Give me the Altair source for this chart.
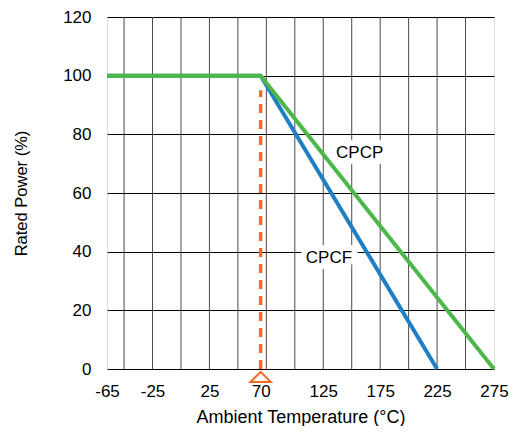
import altair as alt
import pandas as pd

# ---- data ----
temp_ticks = [-65, -25, 25, 70, 125, 175, 225, 275]
grid_temp = [-50, -25, 0, 25, 50, 75, 100, 125, 150, 175, 200, 225, 250]
power_ticks = [0, 20, 40, 60, 80, 100, 120]

cpcf_temp = [-65, 70, 225]
cpcf_power = [100, 100, 0]
cpcp_temp = [-65, 70, 275]
cpcp_power = [100, 100, 0]

marker_temp = [70, 70]
marker_power = [0, 95]

label_names = ["CPCP", "CPCF"]
label_temp = [157, 130]
label_power = [73.5, 38]

FONT = "Liberation Sans"
GREEN = "#4cb848"
BLUE = "#1f7fc4"
ORANGE = "#f26b21"

x_scale = alt.Scale(domain=[-65, 275], nice=False, zero=False)
y_scale = alt.Scale(domain=[0, 120], nice=False)

x_axis = alt.Axis(values=temp_ticks, grid=False, ticks=False, domain=False,
                  labelExpr="'' + datum.value",
                  labelFontSize=17, labelFont=FONT, labelColor="black",
                  labelPadding=14, labelFlush=False, labelOverlap=False,
                  title="Ambient Temperature (°C)", titleFont=FONT,
                  titleFontSize=18, titleFontWeight="normal", titleColor="black",
                  titlePadding=9)
y_axis = alt.Axis(values=power_ticks, grid=True, gridColor="black", gridWidth=1,
                  gridOpacity=1, ticks=False, domain=False,
                  labelFontSize=17, labelFont=FONT, labelColor="black",
                  labelPadding=16, labelFlush=False,
                  title="Rated Power (%)", titleFont=FONT, titleFontSize=16.5,
                  titleFontWeight="normal", titleColor="black", titlePadding=33)

X = alt.X("temp:Q", scale=x_scale, axis=x_axis)
Y = alt.Y("power:Q", scale=y_scale, axis=y_axis)

grid_df = pd.DataFrame({"temp": grid_temp})
cpcf_df = pd.DataFrame({"temp": cpcf_temp, "power": cpcf_power})
cpcp_df = pd.DataFrame({"temp": cpcp_temp, "power": cpcp_power})
marker_df = pd.DataFrame({"temp": marker_temp, "power": marker_power})
tri_df = pd.DataFrame({"temp": marker_temp[:1], "power": marker_power[:1]})
label_df = pd.DataFrame({"name": label_names, "temp": label_temp, "power": label_power})

vgrid = alt.Chart(grid_df).mark_rule(color="#4a4a4a", strokeWidth=1).encode(x=X)

base_y = alt.Chart(cpcf_df).mark_line(opacity=0).encode(x=X, y=Y)

dashed = alt.Chart(marker_df).mark_line(
    color=ORANGE, strokeWidth=3.5, strokeDash=[9, 7]
).encode(x=X, y=Y)

tri = alt.Chart(tri_df).mark_point(
    shape="M-1,0.5L1,0.5L0,-0.5Z", size=420, filled=False,
    stroke=ORANGE, strokeWidth=2, yOffset=8, opacity=1
).encode(x=X, y=Y)

cpcf = alt.Chart(cpcf_df).mark_line(color=BLUE, strokeWidth=4).encode(x=X, y=Y)
cpcp = alt.Chart(cpcp_df).mark_line(color=GREEN, strokeWidth=4).encode(x=X, y=Y)

halo = alt.Chart(label_df).mark_text(
    font=FONT, fontSize=17, color="white", stroke="white", strokeWidth=12,
    strokeJoin="miter"
).encode(x=X, y=Y, text="name:N")
labels = alt.Chart(label_df).mark_text(
    font=FONT, fontSize=17, color="black"
).encode(x=X, y=Y, text="name:N")

chart = alt.layer(vgrid, base_y, dashed, cpcf, cpcp, tri, halo, labels).properties(
    width=387, height=352,
    autosize=alt.AutoSizeParams(type="none"),
    padding={"left": 99, "top": 9, "right": 15, "bottom": 57},
).configure_view(stroke="black", strokeWidth=2).configure(background="white")

chart.save("out.html", embed_options={"renderer": "svg", "actions": False})
